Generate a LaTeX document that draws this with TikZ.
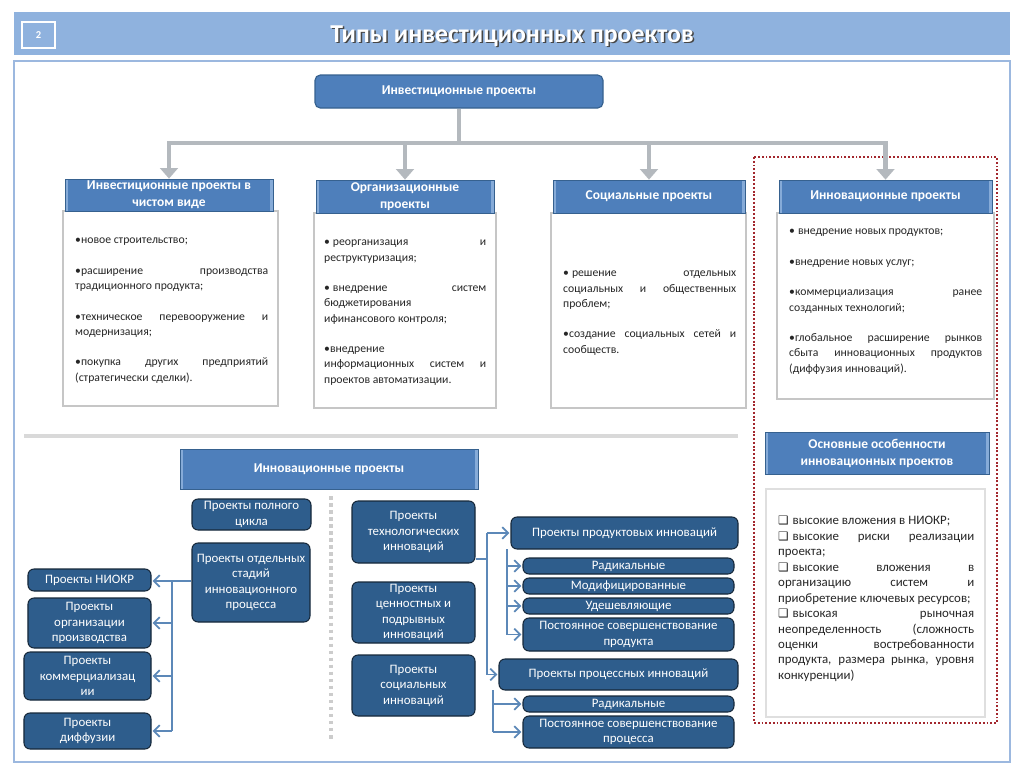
\documentclass[tikz,border=0pt]{standalone}
\usepackage{fontspec}
\setmainfont{Carlito}
\newfontfamily\dejavu{DejaVu Sans}
\usetikzlibrary{arrows.meta,shadows}
\setlength{\parindent}{0pt}
\definecolor{barblue}{HTML}{8FB2DE}
\definecolor{frameblue}{HTML}{9CB8DF}
\definecolor{hblue}{HTML}{4E7FBB}
\definecolor{hblueD}{HTML}{36618F}
\definecolor{hedge}{HTML}{86ABD8}
\definecolor{dblue}{HTML}{2E5D8C}
\definecolor{dborder}{HTML}{16283A}
\definecolor{lblue}{HTML}{5C88B8}
\definecolor{greyc}{HTML}{B4B9BE}
\definecolor{redd}{HTML}{A3282E}
\definecolor{txt}{HTML}{262626}
\newcommand\pbox[7]{%
 \pgfmathsetmacro\pbw{(#4-#2)*0.3}%
 \pgfmathsetmacro\pbh{(#5-#3)*0.3}%
 \node[#6, minimum width=\pbw mm, minimum height=\pbh mm] (#1) at ({(#2+#4)/2},{(#3+#5)/2}) {#7};}
\newcommand\bul{•\kern0.25em}
\begin{document}
\begin{tikzpicture}[x=0.3mm,y=-0.3mm,
 hdr/.style={fill=hblue, draw=hblueD, line width=0.6pt, text=white,
   font=\bfseries\fontsize{11.5}{14.5}\selectfont, align=center, inner sep=0pt,
   path picture={\fill[hedge] (path picture bounding box.south west) rectangle ([xshift=2.5pt]path picture bounding box.north west);
                 \fill[hedge] (path picture bounding box.south east) rectangle ([xshift=-2.5pt]path picture bounding box.north east);}},
 bodybox/.style={fill=white, draw=gray!45, line width=1pt, inner sep=0pt,
   drop shadow={shadow xshift=1.2pt, shadow yshift=-1.2pt, opacity=0.3}},
 bodytxt/.style={anchor=north west, inner sep=0pt, align=justify, text=txt,
   font=\fontsize{10}{13}\selectfont},
 topbox/.style={rounded corners=1.6mm, fill=hblue, draw=hblueD, line width=1pt, text=white,
   font=\bfseries\fontsize{11.5}{13}\selectfont, inner sep=0pt},
 dbox/.style={rounded corners=1.8mm, fill=dblue, draw=dborder, line width=0.9pt, text=white,
   font=\fontsize{11}{13.2}\selectfont, align=center, inner sep=0pt},
 gline/.style={draw=greyc, line width=4pt},
 garrow/.style={gline, -{Triangle[length=9pt,width=15pt]}},
 bline/.style={draw=lblue, line width=1.4pt},
 barrow/.style={bline, -{Straight Barb[length=5pt,width=10pt]}, shorten >=1pt}]
\useasboundingbox (0,0) rectangle (1024,767);
\fill[white] (0,0) rectangle (1024,767);
% title bar
\fill[barblue] (14,12) rectangle (1010,55);
\pbox{num}{22}{22}{55}{48}{draw=white, line width=2.5pt, text=white, font=\bfseries\fontsize{9}{9}\selectfont, inner sep=0pt}{2}
\node[text=gray!55!black, font=\bfseries\fontsize{22}{24}\selectfont] at (513.5,37.5) {Типы инвестиционных проектов};
\node[text=white, font=\bfseries\fontsize{22}{24}\selectfont] (title) at (512,36) {Типы инвестиционных проектов};
% main frame
\draw[draw=frameblue, line width=1.8pt, fill=white] (14,61) rectangle (1010,762);
% red dotted frame
\draw[draw=redd, line width=1.8pt, dash pattern=on 1.6pt off 1.6pt] (754,157) rectangle (997,723);
% top box
\pbox{top}{315}{75}{603}{108}{topbox}{Инвестиционные проекты}
% column bodies
\pbox{b1}{63}{211}{278}{406}{bodybox}{}
\pbox{b2}{314}{213}{496}{408}{bodybox}{}
\pbox{b3}{551}{213}{746}{408}{bodybox}{}
\pbox{b4}{777}{213}{994}{399}{bodybox}{}
% column headers
\pbox{h1}{65}{179}{273}{211}{hdr}{Инвестиционные проекты в\\чистом виде}
\pbox{h2}{316}{180}{494}{213}{hdr}{Организационные\\проекты}
\pbox{h3}{553}{180}{745}{213}{hdr}{Социальные проекты}
\pbox{h4}{779}{180}{992}{213}{hdr}{Инновационные проекты}
% grey connectors
\coordinate (bus) at (459,143);
\draw[gline] (top.south) -- (bus);
\draw[garrow] (bus) -| (h1.north);
\draw[garrow] (bus) -| (h2.north);
\draw[garrow] (bus) -| (h3.north);
\draw[garrow] (bus) -| (h4.north);
% column texts
\node[bodytxt, text width=57.9mm] (t1) at (75,238) {\setlength\parskip{13pt}%
•новое строительство;\par
•расширение производства\linebreak традиционного продукта;\par
•техническое перевооружение и\linebreak модернизация;\par
•покупка других предприятий\linebreak (стратегически сделки).};
\node[bodytxt, text width=48.6mm] (t2) at (324,240) {\setlength\parskip{13pt}%
\bul реорганизация и\linebreak реструктуризация;\par
\bul внедрение систем\linebreak бюджетирования\\ифинансового контроля;\par
•внедрение\\информационных систем и\linebreak проектов автоматизации.};
\node[bodytxt, text width=51.9mm] (t3) at (563,271) {\setlength\parskip{13pt}%
\bul решение отдельных\linebreak социальных и общественных\linebreak проблем;\par
•создание социальных сетей и\linebreak сообществ.};
\node[bodytxt, text width=57.9mm] (t4) at (789,229) {\setlength\parskip{13pt}%
\bul внедрение новых продуктов;\par
•внедрение новых услуг;\par
•коммерциализация ранее\linebreak созданных технологий;\par
•глобальное расширение рынков\linebreak сбыта инновационных продуктов\linebreak (диффузия инноваций).};
% divider
\draw[line width=3.5pt, draw=gray!30] (24,436) -- (738,436);
% innovation banner
\pbox{inn}{180}{449}{478}{489}{hdr}{Инновационные проекты}
% dotted vertical separator
\draw[draw=gray!40, line width=3pt, dash pattern=on 3pt off 3pt] (331,496) -- (331,742);
% features
\pbox{fh}{765}{432}{989}{474}{hdr}{Основные особенности\\инновационных проектов}
\pbox{fb}{766}{489}{985}{717}{fill=white, draw=gray!25, line width=2.5pt, inner sep=0pt}{}
\newcommand\chk{{\dejavu\fontsize{10}{10}\selectfont ❑}\kern0.3em}
\node[bodytxt, text width=58.8mm, font=\fontsize{11}{13.2}\selectfont] (ft) at (778,516) {%
\chk высокие вложения в НИОКР;\par
\chk высокие риски реализации\linebreak проекта;\par
\chk высокие вложения в\linebreak организацию систем и\linebreak приобретение ключевых ресурсов;\par
\chk высокая рыночная\linebreak неопределенность (сложность\linebreak оценки востребованности\linebreak продукта, размера рынка, уровня\linebreak конкуренции)};
% left group
\pbox{full}{192}{499}{311}{530}{dbox}{Проекты полного\\цикла}
\pbox{stage}{192}{543}{310}{622}{dbox}{Проекты отдельных\\стадий\\инновационного\\процесса}
\pbox{niokr}{28}{569}{151}{591}{dbox}{Проекты НИОКР}
\pbox{orgp}{28}{598}{151}{648}{dbox}{Проекты\\организации\\производства}
\pbox{comm}{24}{652}{151}{700}{dbox}{Проекты\\коммерциализац\\ии}
\pbox{diff}{24}{713}{151}{749}{dbox}{Проекты\\диффузии}
\coordinate (lb) at (172,581);
\draw[barrow] (stage.west |- lb) -- (niokr.east |- lb);
\draw[bline] (lb) -- (lb |- diff.east);
\draw[barrow] (lb |- orgp.east) -- (orgp.east);
\draw[barrow] (lb |- comm.east) -- (comm.east);
\draw[barrow] (lb |- diff.east) -- (diff.east);
% middle group
\pbox{tech}{352}{501}{475}{563}{dbox}{Проекты\\технологических\\инноваций}
\pbox{val}{352}{582}{475}{643}{dbox}{Проекты\\ценностных и\\подрывных\\инноваций}
\pbox{soc}{352}{655}{475}{716}{dbox}{Проекты\\социальных\\инноваций}
\pbox{prod}{511}{517}{738}{549}{dbox}{Проекты продуктовых инноваций}
\pbox{rad1}{523}{558}{734}{574}{dbox}{Радикальные}
\pbox{mod}{523}{578}{734}{594}{dbox}{Модифицированные}
\pbox{chp}{523}{598}{734}{614}{dbox}{Удешевляющие}
\pbox{ppost}{523}{618}{734}{651}{dbox}{Постоянное совершенствование\\продукта}
\pbox{proc}{499}{659}{738}{690}{dbox}{Проекты процессных инноваций}
\pbox{rad2}{523}{696}{734}{712}{dbox}{Радикальные}
\pbox{ppost2}{523}{716}{734}{748}{dbox}{Постоянное совершенствование\\процесса}
\coordinate (m1) at (487,559);
\draw[bline] (tech.east |- m1) -- (m1);
\draw[bline] (m1 |- prod.west) -- (m1 |- proc.west);
\draw[barrow] (m1 |- prod.west) -- (prod.west);
\draw[barrow] (m1 |- proc.west) -- (proc.west);
\coordinate (m2) at (507,549);
\draw[bline] (m2) -- (m2 |- ppost.west);
\draw[barrow] (m2 |- rad1.west) -- (rad1.west);
\draw[barrow] (m2 |- mod.west) -- (mod.west);
\draw[barrow] (m2 |- chp.west) -- (chp.west);
\draw[barrow] (m2 |- ppost.west) -- (ppost.west);
\coordinate (m3) at (493,690);
\draw[bline] (m3) -- (m3 |- ppost2.west);
\draw[barrow] (m3 |- rad2.west) -- (rad2.west);
\draw[barrow] (m3 |- ppost2.west) -- (ppost2.west);
\end{tikzpicture}
\end{document}
